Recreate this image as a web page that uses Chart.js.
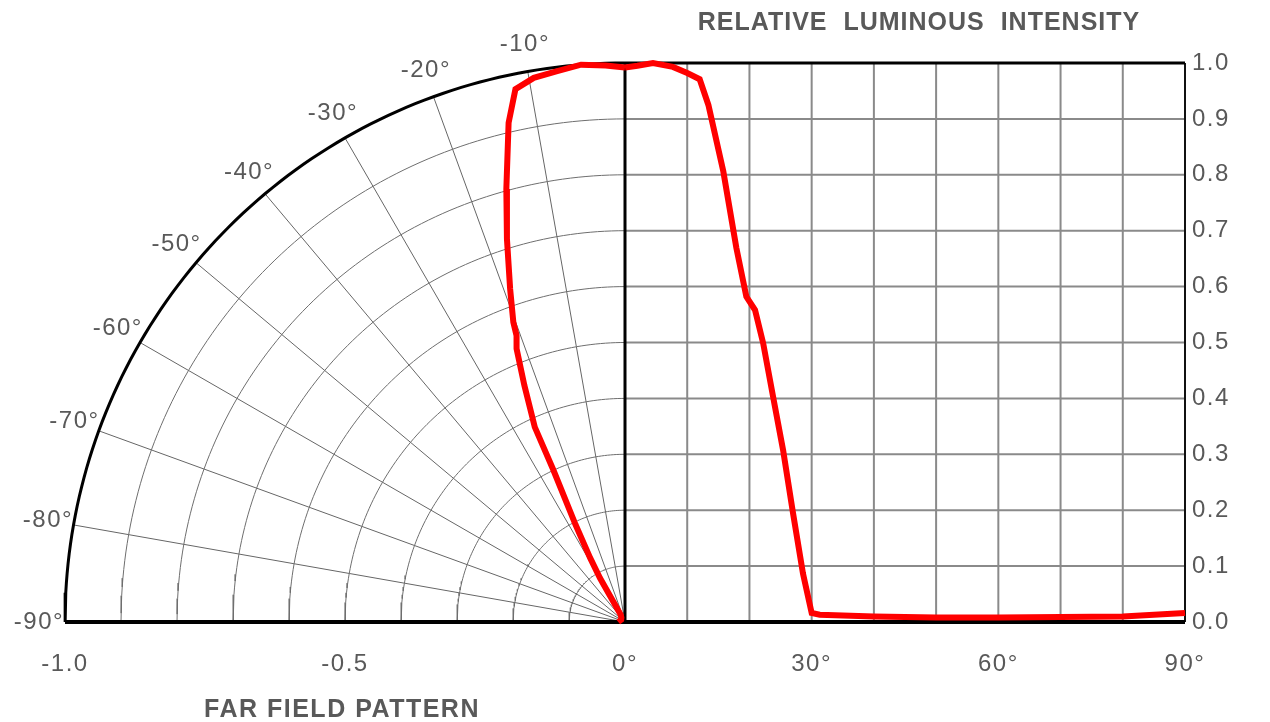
<!DOCTYPE html>
<html>
<head>
<meta charset="utf-8">
<script src="https://cdn.jsdelivr.net/npm/chart.js@4.4.1/dist/chart.umd.min.js"></script>
<style>
  body { margin: 0; background: #fff; }
  #wrap { width: 1270px; height: 722px; }
</style>
</head>
<body>
<div id="wrap"><canvas id="myChart" width="1270" height="722"></canvas></div>
<script>
// right half: relative intensity vs angle (deg)
var rightAngles = [0, 2, 4.5, 7.7, 10, 12, 13.4, 15.8, 17.9, 19.5, 20.9, 22.2, 23.8, 25.4, 27, 28.6, 30, 31.3, 40, 50, 60, 70, 80, 85, 90];
var rightValues = [0.992, 0.995, 1.0, 0.993, 0.982, 0.971, 0.925, 0.806, 0.669, 0.582, 0.558, 0.499, 0.403, 0.308, 0.195, 0.087, 0.016, 0.013, 0.010, 0.008, 0.008, 0.009, 0.010, 0.013, 0.016];

// left half: far field pattern (polar), angle in deg, radius = relative intensity
var leftAngles = [0, -2, -4.5, -7, -9.5, -11.6, -13.1, -15.3, -17.1, -19, -20.4, -20.7, -21.6, -23, -24.8, -25.2, -26.9, -28.5, -29.6, -30.5, -40, -60, -90];
var leftValues = [0.992, 0.996, 1.0, 0.993, 0.987, 0.973, 0.917, 0.803, 0.717, 0.63, 0.572, 0.548, 0.526, 0.46, 0.384, 0.30, 0.195, 0.13, 0.09, 0.015, 0.01, 0.008, 0.012];

var xTickValues = [-1, -0.5, 0, 1 / 3, 2 / 3, 1];
var xTickLabels = ["-1.0", "-0.5", "0°", "30°", "60°", "90°"];
var spokeAngles = [-10, -20, -30, -40, -50, -60, -70, -80, -90];
var ringRadii = [0.1, 0.2, 0.3, 0.4, 0.5, 0.6, 0.7, 0.8, 0.9];
var rightGridDeg = [10, 20, 30, 40, 50, 60, 70, 80];
var rightGridVal = [0.1, 0.2, 0.3, 0.4, 0.5, 0.6, 0.7, 0.8, 0.9];

var txtColor = "#595959";
var fontFam = "'Liberation Sans', Arial, sans-serif";
var rad = Math.PI / 180;

function polar(deg, r) {
    return { x: -r * Math.sin(Math.abs(deg) * rad), y: r * Math.cos(deg * rad) };
}

function lineSet(data, color, width) {
    return {
        data: data,
        showLine: true,
        borderColor: color,
        borderWidth: width,
        pointRadius: 0,
        fill: false,
        tension: 0,
        clip: false
    };
}

function arc(r) {
    var pts = [];
    for (var a = 0; a <= 90; a += 1) {
        pts.push(polar(-a, r));
    }
    return pts;
}

var datasets = [];

// red curves first so they sit on top
var rightData = [];
for (var i = 0; i < rightAngles.length; i++) {
    rightData.push({ x: rightAngles[i] / 90, y: rightValues[i] });
}
var leftData = [];
for (var i = 0; i < leftAngles.length; i++) {
    leftData.push(polar(leftAngles[i], leftValues[i]));
}
datasets.push(lineSet(rightData, "#ff0000", 6));
datasets.push(lineSet(leftData, "#ff0000", 6));

// frame / axes
datasets.push(lineSet([{ x: -1, y: 0 }, { x: 1, y: 0 }], "#000", 4));
datasets.push(lineSet([{ x: 0, y: 0 }, { x: 0, y: 1 }], "#000", 3));
datasets.push(lineSet([{ x: 0, y: 1 }, { x: 1, y: 1 }], "#000", 3));
datasets.push(lineSet([{ x: 1, y: 0 }, { x: 1, y: 1 }], "#111", 2));
datasets.push(lineSet(arc(1), "#000", 3));

// polar grid
for (var i = 0; i < ringRadii.length; i++) {
    datasets.push(lineSet(arc(ringRadii[i]), "#6e6e6e", 1));
}
for (var i = 0; i < spokeAngles.length - 1; i++) {
    datasets.push(lineSet([{ x: 0, y: 0 }, polar(spokeAngles[i], 1)], "#666", 1));
}

// cartesian grid on the right
for (var i = 0; i < rightGridDeg.length; i++) {
    datasets.push(lineSet([{ x: rightGridDeg[i] / 90, y: 0 }, { x: rightGridDeg[i] / 90, y: 1 }], "#8a8a8a", 2));
}
for (var i = 0; i < rightGridVal.length; i++) {
    datasets.push(lineSet([{ x: 0, y: rightGridVal[i] }, { x: 1, y: rightGridVal[i] }], "#8a8a8a", 2));
}

// angle labels and titles
var labelPlugin = {
    id: "labels",
    beforeDraw: function (chart) {
        // slightly wider text like the original
        chart.ctx.letterSpacing = "1.5px";
    },
    afterDraw: function (chart) {
        var ctx = chart.ctx;
        var xs = chart.scales.x;
        var ys = chart.scales.y;
        ctx.save();
        ctx.fillStyle = txtColor;
        ctx.textAlign = "center";
        ctx.textBaseline = "middle";
        ctx.letterSpacing = "1.5px";
        ctx.font = "24px " + fontFam;
        for (var i = 0; i < spokeAngles.length; i++) {
            var p = polar(spokeAngles[i], 1.05);
            ctx.fillText(spokeAngles[i] + "°", xs.getPixelForValue(p.x) + 2, ys.getPixelForValue(p.y));
        }
        ctx.font = "bold 25px " + fontFam;
        ctx.letterSpacing = "1px";
        ctx.fillText("RELATIVE  LUMINOUS  INTENSITY", xs.getPixelForValue(0.5) + 14, 23);
        ctx.letterSpacing = "1.5px";
        ctx.fillText("FAR FIELD PATTERN", xs.getPixelForValue(-0.5) - 3, 710);
        ctx.restore();
    }
};

var chart = new Chart(document.getElementById("myChart"), {
    type: "scatter",
    data: { datasets: datasets },
    options: {
        responsive: false,
        animation: false,
        devicePixelRatio: 1,
        layout: { padding: { left: 65, top: 63, right: 0, bottom: 0 } },
        plugins: {
            legend: { display: false },
            tooltip: { enabled: false }
        },
        scales: {
            x: {
                type: "linear",
                min: -1,
                max: 1,
                grid: { display: false, drawTicks: false },
                border: { display: false },
                afterBuildTicks: function (axis) {
                    axis.ticks = xTickValues.map(function (v) { return { value: v }; });
                },
                afterFit: function (axis) { axis.height = 100; },
                ticks: {
                    autoSkip: false,
                    maxRotation: 0,
                    padding: 28,
                    color: txtColor,
                    font: { size: 24, family: fontFam },
                    callback: function (v, idx) { return xTickLabels[idx]; }
                }
            },
            y: {
                type: "linear",
                position: "right",
                min: 0,
                max: 1,
                grid: { display: false, drawTicks: false },
                border: { display: false },
                afterFit: function (axis) { axis.width = 85; },
                ticks: {
                    stepSize: 0.1,
                    padding: 7,
                    color: txtColor,
                    font: { size: 24, family: fontFam },
                    callback: function (v) { return v.toFixed(1); }
                }
            }
        }
    },
    plugins: [labelPlugin]
});
</script>
</body>
</html>
